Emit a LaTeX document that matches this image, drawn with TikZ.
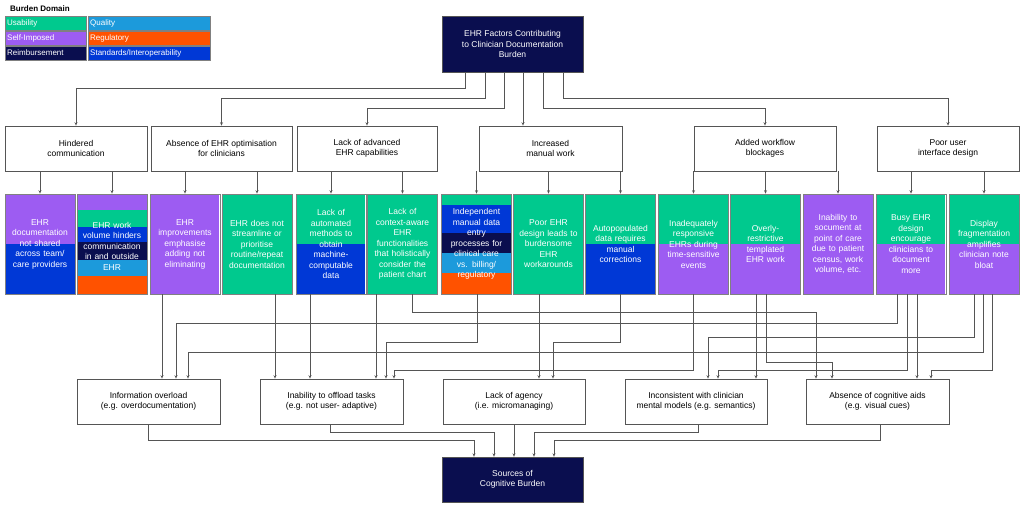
\documentclass[tikz,border=0pt]{standalone}
\usepackage{fontspec}
\setmainfont{Liberation Sans}
\usetikzlibrary{arrows.meta}
\definecolor{cU}{HTML}{00C98E}
\definecolor{cS}{HTML}{9D5CF2}
\definecolor{cR}{HTML}{0A0E4F}
\definecolor{cQ}{HTML}{1C9ADB}
\definecolor{cG}{HTML}{FF5200}
\definecolor{cB}{HTML}{0038D6}
\definecolor{ln}{HTML}{555555}
\begin{document}
\begin{tikzpicture}[x=1pt,y=-1pt,
  conn/.style={draw=ln,line width=0.6pt,-{Stealth[length=3.5pt,width=3pt,open]}},
  cat/.style={draw=ln,line width=0.6pt,fill=white,inner sep=1pt,align=center,font=\fontsize{8.5}{10.5}\selectfont},
  col/.style={draw=gray,line width=0.6pt,inner sep=1pt,minimum width=69pt,minimum height=100pt,text width=68pt,align=center,text=white,font=\fontsize{8.5}{10.5}\selectfont},
  dark/.style={draw=ln,fill=cR,text=white,inner sep=1pt,align=center,minimum width=141pt,minimum height=56pt,font=\fontsize{8.5}{10.5}\selectfont},
  leg/.style={anchor=west,text=white,inner sep=1pt,font=\fontsize{8}{9}\selectfont}]
\useasboundingbox (0,0) rectangle (1024,509);
% legend
\node[anchor=west,inner sep=0pt,font=\fontsize{8}{9}\selectfont\bfseries] (lt) at (10,9) {Burden Domain};
\fill[cU] (5,16) rectangle (86,30); \fill[cQ] (88,16) rectangle (210,30);
\fill[cS] (5,31) rectangle (86,45); \fill[cG] (88,31) rectangle (210,45);
\fill[cR] (5,46) rectangle (86,60); \fill[cB] (88,46) rectangle (210,60);
\draw[gray,line width=0.4pt] (5,16) rectangle (86,30) (88,16) rectangle (210,30) (5,31) rectangle (86,45) (88,31) rectangle (210,45) (5,46) rectangle (86,60) (88,46) rectangle (210,60);
\node[leg] (l1) at (6,23) {Usability}; \node[leg] (l2) at (89,23) {Quality};
\node[leg] (l3) at (6,38) {Self-Imposed}; \node[leg] (l4) at (89,38) {Regulatory};
\node[leg] (l5) at (6,53) {Reimbursement}; \node[leg] (l6) at (89,53) {Standards/Interoperability};
% top
\node[dark] (top) at (512.5,44) {EHR Factors Contributing\\to Clinician Documentation\\Burden};
% categories
\node[cat,minimum width=142pt,minimum height=45pt] (c1) at (76,148.5) {Hindered\\communication};
\node[cat,minimum width=141pt,minimum height=45pt] (c2) at (221.5,148.5) {Absence of EHR optimisation\\for clinicians};
\node[cat,minimum width=140pt,minimum height=45pt] (c3) at (367,148.5) {Lack of advanced\\EHR capabilities};
\node[cat,minimum width=143pt,minimum height=45pt] (c4) at (550.5,148.5) {Increased\\manual work};
\node[cat,minimum width=142pt,minimum height=45pt] (c5) at (765,148.5) {Added workflow\\blockages};
\node[cat,minimum width=142pt,minimum height=45pt] (c6) at (948,148.5) {Poor user\\interface design};
\draw[conn] (top.south -| 465,0) -- (465,88) -| (c1.north);
\draw[conn] (top.south -| 485,0) -- (485,98) -| (c2.north);
\draw[conn] (top.south -| 504,0) -- (504,108) -| (c3.north);
\draw[conn] (top.south -| 523,0) -- (c4.north -| 523,0);
\draw[conn] (top.south -| 543,0) -- (543,108) -| (c5.north);
\draw[conn] (top.south -| 563,0) -- (563,98) -| (c6.north);
% colored bands
\fill[cS] (5,194) rectangle (75,244); \fill[cB] (5,244) rectangle (75,294);
\fill[cS] (77,194) rectangle (147,210); \fill[cU] (77,210) rectangle (147,227); \fill[cB] (77,227) rectangle (147,242);
\fill[cR] (77,242) rectangle (147,260); \fill[cQ] (77,260) rectangle (147,276); \fill[cG] (77,276) rectangle (147,294);
\fill[cS] (151,194) rectangle (219,294);
\fill[cU] (222,194) rectangle (292,294);
\fill[cU] (297,194) rectangle (365,244); \fill[cB] (297,244) rectangle (365,294);
\fill[cU] (368,194) rectangle (437,294);
\fill[cU] (442,194) rectangle (511,205); \fill[cB] (442,205) rectangle (511,233); \fill[cR] (442,233) rectangle (511,253);
\fill[cQ] (442,253) rectangle (511,273); \fill[cG] (442,273) rectangle (511,294);
\fill[cU] (514,194) rectangle (583,294);
\fill[cU] (586,194) rectangle (655,244); \fill[cB] (586,244) rectangle (655,294);
\fill[cU] (659,194) rectangle (728,244); \fill[cS] (659,244) rectangle (728,294);
\fill[cU] (731,194) rectangle (800,244); \fill[cS] (731,244) rectangle (800,294);
\fill[cS] (803,194) rectangle (873,294);
\fill[cU] (877,194) rectangle (945,244); \fill[cS] (877,244) rectangle (945,294);
\fill[cU] (949,194) rectangle (1019,244); \fill[cS] (949,244) rectangle (1019,294);
% colored nodes
\node[col,minimum width=70pt] (b1) at (40,244) {EHR\\documentation\\not shared\\across team/\\care providers};
\node[col,minimum width=70pt] (b2) at (112,244) {\\EHR work\\volume hinders\\communication\\in and outside\\EHR\\ };
\node[col,minimum width=68pt] (b3) at (185,244) {EHR\\improvements\\emphasise\\adding not\\eliminating};
\node[col,minimum width=70pt] (b4) at (257,244) {EHR does not\\streamline or\\prioritise\\routine/repeat\\documentation};
\node[col,minimum width=68pt] (b5) at (331,244) {Lack of\\automated\\methods to\\obtain\\machine-\\computable\\data};
\node[col,minimum width=69pt] (b6) at (402.5,244) {Lack of\\context-aware\\EHR\\functionalities\\that holistically\\consider the\\patient chart};
\node[col,minimum width=69pt] (b7) at (476.5,244) {Independent\\manual data\\entry\\processes for\\clinical care\\vs. billing/\\regulatory};
\node[col,minimum width=69pt] (b8) at (548.5,244) {Poor EHR\\design leads to\\burdensome\\EHR\\workarounds};
\node[col,minimum width=69pt] (b9) at (620.5,244) {Autopopulated\\data requires\\manual\\corrections};
\node[col,minimum width=69pt] (b10) at (693.5,244) {Inadequately\\responsive\\EHRs during\\time-sensitive\\events};
\node[col,minimum width=69pt] (b11) at (765.5,244) {Overly-\\restrictive\\templated\\EHR work};
\node[col,minimum width=70pt] (b12) at (838,244) {Inability to\\socument at\\point of care\\due to patient\\census, work\\volume, etc.};
\node[col,minimum width=68pt] (b13) at (911,244) {Busy EHR\\design\\encourage\\clinicians to\\document\\more};
\node[col,minimum width=70pt] (b14) at (984,244) {Display\\fragmentation\\amplifies\\clinician note\\bloat};
\foreach \c/\b in {c1/b1,c1/b2,c2/b3,c2/b4,c3/b5,c3/b6,c4/b7,c4/b8,c4/b9,c5/b10,c5/b11,c5/b12,c6/b13,c6/b14}
  \draw[conn] (\c.south -| \b.north) -- (\b.north);
% outcome boxes
\node[cat,minimum width=143pt,minimum height=45pt] (o1) at (148.5,401.5) {Information overload\\(e.g. overdocumentation)};
\node[cat,minimum width=143pt,minimum height=45pt] (o2) at (331.5,401.5) {Inability to offload tasks\\(e.g. not user- adaptive)};
\node[cat,minimum width=142pt,minimum height=45pt] (o3) at (514,401.5) {Lack of agency\\(i.e. micromanaging)};
\node[cat,minimum width=142pt,minimum height=45pt] (o4) at (696,401.5) {Inconsistent with clinician\\mental models (e.g. semantics)};
\node[cat,minimum width=143pt,minimum height=45pt] (o5) at (877.5,401.5) {Absence of cognitive aids\\(e.g. visual cues)};
\node[dark] (sink) at (512.5,479.5) [minimum height=45pt] {Sources of\\Cognitive Burden};
% middle connectors
\draw[conn] (b3.south -| 162,0) -- (o1.north -| 162,0);
\draw[conn] (b13.south -| 897,0) -- (897,323) -| (o1.north -| 176,0);
\draw[conn] (b14.south -| 983,0) -- (983,352) -| (o1.north -| 188,0);
\draw[conn] (b4.south -| 275,0) -- (o2.north -| 275,0);
\draw[conn] (b5.south -| 310,0) -- (o2.north -| 310,0);
\draw[conn] (b6.south -| 376,0) -- (o2.north -| 376,0);
\draw[conn] (b6.south -| 412,0) -- (412,312) -| (o5.north -| 816,0);
\draw[conn] (b7.south -| 477,0) -- (477,342) -| (o2.north -| 386,0);
\draw[conn] (b10.south -| 693,0) -- (693,370) -| (o2.north -| 394,0);
\draw[conn] (b8.south -| 539,0) -- (o3.north -| 539,0);
\draw[conn] (b9.south -| 620,0) -- (620,342) -| (o3.north -| 553,0);
\draw[conn] (b14.south -| 974,0) -- (974,337) -| (o4.north -| 708,0);
\draw[conn] (b13.south -| 907,0) -- (907,370) -| (o4.north -| 718,0);
\draw[conn] (b11.south -| 756,0) -- (o4.north -| 756,0);
\draw[conn] (b11.south -| 766,0) -- (766,362) -| (o5.north -| 832,0);
\draw[conn] (b13.south -| 917,0) -- (o5.north -| 917,0);
\draw[conn] (b14.south -| 992,0) -- (992,370) -| (o5.north -| 931,0);
% to sink
\draw[conn] (o1.south) -- (148.5,440) -| (sink.north -| 474,0);
\draw[conn] (o2.south -| 330,0) -- (330,432) -| (sink.north -| 494,0);
\draw[conn] (o3.south) -- (sink.north -| o3.south);
\draw[conn] (o4.south -| 698,0) -- (698,432) -| (sink.north -| 534,0);
\draw[conn] (o5.south -| 880,0) -- (880,440) -| (sink.north -| 554,0);
\end{tikzpicture}
\end{document}
